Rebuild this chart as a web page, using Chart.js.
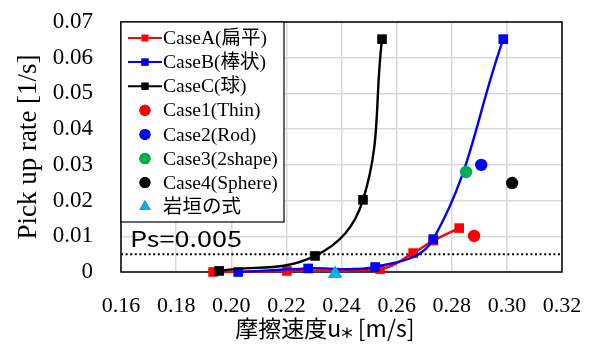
<!DOCTYPE html>
<html>
<head>
<meta charset="utf-8">
<script src="https://cdn.jsdelivr.net/npm/chart.js@4.4.1/dist/chart.umd.min.js"></script>
<style>
  html, body { margin: 0; padding: 0; background: #fff; }
  #wrap { width: 589px; height: 345px; }
</style>
</head>
<body>
<div id="wrap"><canvas id="c"></canvas></div>
<script>
// values
var caseA_x = [0.1934, 0.2202, 0.2540, 0.2660, 0.2733, 0.2827];
var caseA_y = [0.0000, 0.0003, 0.0008, 0.0053, 0.0088, 0.0123];
var caseB_x = [0.2025, 0.2279, 0.2522, 0.2733, 0.2987];
var caseB_y = [0.0000, 0.0010, 0.0014, 0.0092, 0.0652];
var caseC_x = [0.1956, 0.2304, 0.2478, 0.2547];
var caseC_y = [0.0003, 0.0045, 0.0202, 0.0652];
var case1 = [0.2881, 0.0101];
var case2 = [0.2907, 0.0300];
var case3 = [0.2852, 0.0280];
var case4 = [0.3019, 0.0249];
var iwagaki = [0.2377, -0.0005];
var psValue = 0.005;
var xTickLabels = ['0.16', '0.18', '0.20', '0.22', '0.24', '0.26', '0.28', '0.30', '0.32'];
var yTickLabels = ['0', '0.01', '0.02', '0.03', '0.04', '0.05', '0.06', '0.07'];
var legendNames = ['CaseA(扁平)', 'CaseB(棒状)', 'CaseC(球)', 'Case1(Thin)', 'Case2(Rod)',
                   'Case3(2shape)', 'Case4(Sphere)', '岩垣の式'];

var SERIF = "'Liberation Serif', 'Noto Sans CJK JP', serif";
var SANS = "'Noto Sans CJK JP', 'DejaVu Sans', sans-serif";

function pts(xs, ys) {
  return xs.map(function (x, i) { return { x: x, y: ys[i] }; });
}

var lineSet = function (label, xs, ys, color, order) {
  return {
    label: label, data: pts(xs, ys), showLine: true, tension: 0.4,
    borderColor: color, backgroundColor: color, borderWidth: 2.4,
    pointStyle: 'rect', pointRadius: 6.8, pointBorderWidth: 0, order: order, clip: false
  };
};
var dotSet = function (label, p, color, style, r) {
  return {
    label: label, data: [{ x: p[0], y: p[1] }], showLine: false,
    pointStyle: style, pointRadius: r, backgroundColor: color, borderColor: color,
    pointBorderWidth: 0, order: 0, clip: false
  };
};

var datasets = [
  {
    label: 'Ps', data: [{ x: 0.16, y: psValue }, { x: 0.32, y: psValue }], showLine: true,
    borderColor: '#000', borderWidth: 2, borderDash: [2, 2.6], pointRadius: 0, order: 10
  },
  lineSet(legendNames[0], caseA_x, caseA_y, '#ff0000', 5),
  lineSet(legendNames[1], caseB_x, caseB_y, '#0000ff', 4),
  lineSet(legendNames[2], caseC_x, caseC_y, '#000000', 3),
  dotSet(legendNames[3], case1, '#ff0000', 'circle', 6.2),
  dotSet(legendNames[4], case2, '#0000ff', 'circle', 6.2),
  dotSet(legendNames[5], case3, '#00b050', 'circle', 6.2),
  dotSet(legendNames[6], case4, '#000000', 'circle', 6.2),
  dotSet(legendNames[7], iwagaki, '#00b0f0', 'triangle', 8.5)
];

// plot frame, inner legend box and the Ps label
var extras = {
  id: 'extras',
  beforeDatasetsDraw: function (chart) {
    var a = chart.chartArea, ctx = chart.ctx;
    ctx.save();
    ctx.strokeStyle = '#000';
    ctx.lineWidth = 1.5;
    ctx.strokeRect(a.left, a.top, a.right - a.left, a.bottom - a.top);
    ctx.restore();
  },
  afterDatasetsDraw: function (chart) {
    var a = chart.chartArea, ctx = chart.ctx;
    ctx.save();
    // Ps text
    ctx.font = '22px ' + SANS;
    ctx.fillStyle = '#000';
    ctx.textBaseline = 'alphabetic';
    var w = ctx.measureText('Ps=0.005').width;
    ctx.translate(a.left + 9, 247);
    ctx.scale(112 / w, 1);
    ctx.fillText('Ps=0.005', 0, 0);
    ctx.restore();

    // legend
    ctx.save();
    var lx = a.left, ly = a.top, lw = 163, lh = 200;
    ctx.fillStyle = '#fff';
    ctx.fillRect(lx, ly, lw, lh);
    ctx.strokeStyle = '#000';
    ctx.lineWidth = 1.2;
    ctx.strokeRect(lx, ly, lw, lh);
    ctx.font = '19.5px ' + SERIF;
    ctx.textBaseline = 'middle';
    for (var i = 0; i < legendNames.length; i++) {
      var ds = datasets[i + 1];
      var cy = ly + 16 + i * 24.1;
      var mx = lx + 24;
      if (i < 3) {
        ctx.strokeStyle = ds.borderColor;
        ctx.lineWidth = 2;
        ctx.beginPath();
        ctx.moveTo(lx + 7, cy); ctx.lineTo(lx + 41, cy);
        ctx.stroke();
      }
      Chart.helpers.drawPoint(ctx, {
        pointStyle: ds.pointStyle, rotation: 0, borderWidth: 0,
        radius: i < 3 ? 5 : (i === 7 ? 6.5 : 5.5)
      }, mx, cy);
      ctx.fillStyle = ds.backgroundColor;
      ctx.fill();
      ctx.fillStyle = '#000';
      ctx.fillText(legendNames[i], lx + 42, cy + 1);
    }
    ctx.restore();
  }
};

function noPad(s) {
  s.paddingTop = 0; s.paddingBottom = 0; s.paddingLeft = 0; s.paddingRight = 0;
}

new Chart(document.getElementById('c'), {
  type: 'scatter',
  data: { datasets: datasets },
  plugins: [extras],
  options: {
    responsive: true,
    maintainAspectRatio: false,
    animation: false,
    layout: { padding: { top: 22, right: 27, left: 0, bottom: 0 } },
    plugins: { legend: { display: false }, tooltip: { enabled: false } },
    elements: { point: { hitRadius: 0 } },
    scales: {
      x: {
        type: 'linear', min: 0.16, max: 0.32,
        afterFit: function (s) { s.height = 73; noPad(s); },
        grid: { color: '#d9d9d9', lineWidth: 1.5, drawTicks: false },
        border: { display: false },
        ticks: {
          stepSize: 0.02, autoSkip: false, maxRotation: 0, padding: 21,
          color: '#000', font: { family: SERIF, size: 22 },
          callback: function (v, i) { return xTickLabels[i]; }
        },
        title: {
          display: true, text: '摩擦速度u⁎ [m/s]\u3000  ', color: '#000',
          font: { family: SANS, size: 23 }, padding: { top: 0, bottom: 3 }
        }
      },
      y: {
        type: 'linear', min: 0, max: 0.07,
        afterFit: function (s) { s.width = 121; noPad(s); },
        grid: { color: '#d9d9d9', lineWidth: 1.5, drawTicks: false },
        border: { display: false },
        ticks: {
          stepSize: 0.01, autoSkip: false, padding: 28,
          color: '#000', font: { family: SERIF, size: 23 },
          callback: function (v, i) { return yTickLabels[i]; }
        },
        title: {
          display: true, text: 'Pick up rate [1/s]', color: '#000',
          font: { family: SERIF, size: 27 }, padding: { top: 13, bottom: 0 }
        }
      }
    }
  }
});
</script>
</body>
</html>
